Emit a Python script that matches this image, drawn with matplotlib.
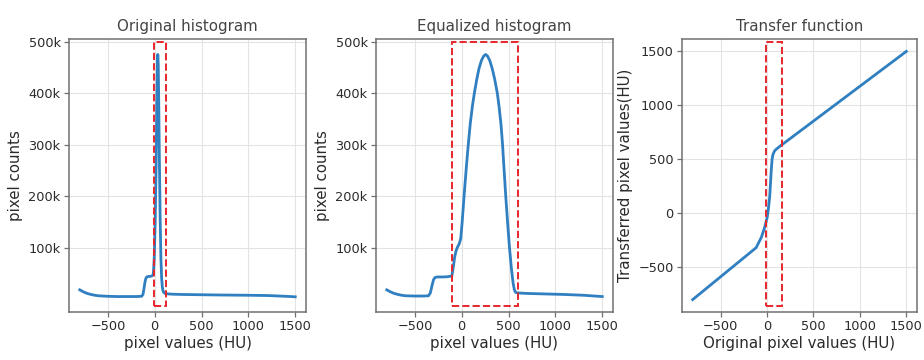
import matplotlib
matplotlib.use("Agg")
import matplotlib.pyplot as plt

# ---------------- data ----------------
orig_x = [-800, -760, -720, -680, -640, -600, -500, -400, -300, -200, -140, -125, -115,
          -105, -95, -85, -70, -50, -30, -15, -5, 5, 15, 22, 28, 33, 38, 43, 50, 58,
          66, 74, 82, 92, 110, 150, 200, 300, 500, 700, 1000, 1200, 1400, 1500]
orig_y = [18000, 14000, 11000, 9000, 7500, 6500, 5500, 5000, 5000, 5000, 5500, 9000, 20000,
          32000, 40000, 43000, 44000, 44000, 45000, 48000, 80000, 150000, 260000, 380000,
          450000, 475000, 455000, 380000, 270000, 160000, 80000, 40000, 22000, 14000,
          11000, 10000, 9500, 9000, 8500, 8000, 7500, 7000, 5500, 4500]

eq_x = [-800, -760, -720, -680, -640, -600, -500, -400, -355, -335, -315, -300, -285,
        -260, -200, -150, -105, -90, -75, -60, -45, -25, -10, 5, 25, 48, 70, 92, 115,
        135, 160, 185, 210, 235, 255, 275, 300, 325, 352, 380, 400, 420, 436, 452, 470,
        490, 510, 530, 548, 562, 576, 600, 700, 900, 1100, 1300, 1500]
eq_y = [18000, 14000, 11000, 9000, 7500, 6500, 6000, 6000, 6500, 12000, 28000, 38000,
        42000, 43000, 43000, 43500, 45000, 62000, 82000, 94000, 101000, 108000, 118000,
        150000, 200000, 253000, 300000, 342000, 376000, 400000, 426000, 448000, 463000,
        472000, 475000, 472000, 463000, 448000, 427000, 400000, 372000, 338000, 300000,
        252000, 200000, 148000, 100000, 60000, 32000, 18000, 13000, 12000, 11000, 10000,
        9000, 7500, 5000]

tf_x = [-800, -500, -300, -117, -60, -25, 3, 15, 29, 38, 46, 55, 64, 80, 96, 150, 500, 1000, 1500]
tf_y = [-800, -589, -448, -319, -222, -131, -35, 40, 153, 280, 403, 500, 544, 575, 591, 628,
        854, 1177, 1500]

orig_box = (-10, 120)
eq_box = (-100, 600)
tf_box = (-10, 165)

titles = ["Original histogram", "Equalized histogram", "Transfer function"]
xlabels = ["pixel values (HU)", "pixel values (HU)", "Original pixel values (HU)"]
ylabels = ["pixel counts", "pixel counts", "Transferred pixel values(HU)"]
hist_yticks = [100000, 200000, 300000, 400000, 500000]
hist_yticklabels = ["100k", "200k", "300k", "400k", "500k"]
xticks = [-500, 0, 500, 1000, 1500]
xticklabels = ["\u2212500", "0", "500", "1000", "1500"]

# ---------------- plotting ----------------
fig = plt.figure(figsize=(9.24, 3.6), dpi=100)
positions = [
    [69 / 924, 48 / 360, 237 / 924, 273 / 360],
    [376 / 924, 48 / 360, 237 / 924, 273 / 360],
    [682 / 924, 48 / 360, 235 / 924, 273 / 360],
]
line_color = "#2f7fc1"
text_color = "#2a2a2a"
spine_color = "#707070"

series = [(orig_x, orig_y, orig_box), (eq_x, eq_y, eq_box), (tf_x, tf_y, tf_box)]
for i, (pos, (xs, ys, box)) in enumerate(zip(positions, series)):
    ax = fig.add_axes(pos)
    ax.plot(xs, ys, color=line_color, lw=2.0, zorder=3)
    ax.axvspan(box[0], box[1], ymin=0.022, ymax=0.99, fill=False, edgecolor="#e8262b",
               linestyle="--", lw=1.4, zorder=4)
    ax.set_xticks(xticks)
    ax.set_xticklabels(xticklabels)
    if i < 2:
        ax.set_ylim(-25000, 505000)
        ax.set_yticks(hist_yticks)
        ax.set_yticklabels(hist_yticklabels)
    ax.grid(True, color="#e3e3e3", lw=0.8, zorder=0)
    ax.set_axisbelow(True)
    for sp in ax.spines.values():
        sp.set_color(spine_color)
        sp.set_linewidth(1.1)
    ax.tick_params(axis="both", direction="out", length=3.5, width=0.9,
                   color=spine_color, labelsize=9.3, labelcolor=text_color, pad=2.5)
    ax.set_title(titles[i], fontsize=10.8, color="#444444", pad=6)
    ax.set_xlabel(xlabels[i], fontsize=10.8, color=text_color, labelpad=2)
    ax.set_ylabel(ylabels[i], fontsize=10.8, color=text_color, labelpad=4)

fig.savefig("out.png", dpi=100)
